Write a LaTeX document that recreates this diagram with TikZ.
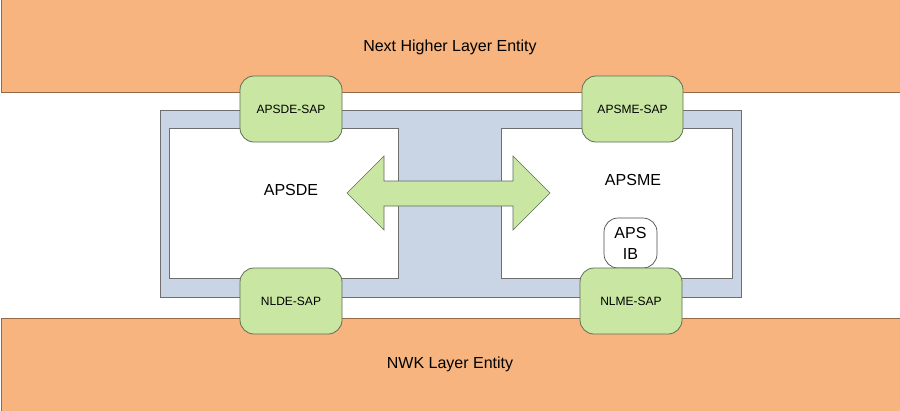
\documentclass[tikz,border=0pt]{standalone}
\usepackage{fontspec}
\setmainfont{Liberation Sans}
\usetikzlibrary{shapes.arrows}
\definecolor{orangefill}{RGB}{247,180,126}
\definecolor{orangedraw}{RGB}{150,105,70}
\definecolor{greenfill}{RGB}{201,230,162}
\definecolor{greendraw}{RGB}{95,110,85}
\definecolor{bluefill}{RGB}{201,212,228}
\definecolor{graydraw}{RGB}{110,110,110}
\tikzset{
  band/.style={draw=orangedraw, fill=orangefill, line width=1pt},
  sap/.style={draw=greendraw, fill=greenfill, rounded corners=14pt, line width=0.8pt},
  inner/.style={draw=graydraw, fill=white, line width=0.8pt},
  lbl/.style={font=\fontsize{16}{19}\selectfont, align=center},
  saplbl/.style={font=\fontsize{12}{14}\selectfont},
}
\begin{document}
\begin{tikzpicture}[x=1pt,y=-1pt]
\useasboundingbox (0,0) rectangle (900,410);
\fill[white] (0,0) rectangle (900,410);
% bands
\draw[band] (1,-5) rectangle (905,92);
\draw[band] (1,318) rectangle (905,415);
\node[lbl] (nhle) at (450,47) {Next Higher Layer Entity};
\node[lbl] (nwk) at (450,364) {NWK Layer Entity};
% outer blue
\draw[draw=graydraw, fill=bluefill, line width=0.8pt] (160,110) rectangle (741,297);
\draw[inner] (169,128) rectangle (398,278);
\draw[inner] (501,128) rectangle (732,278);
\node[lbl] (apsde) at (291,190) {APSDE};
\node[lbl] (apsme) at (633,180) {APSME};
% double arrow
\draw[draw=greendraw, fill=greenfill, line width=0.6pt]
  (347,193) -- (384,156) -- (384,181) -- (513,181) -- (513,156) -- (550,193)
  -- (513,230) -- (513,206) -- (384,206) -- (384,230) -- cycle;
% APS IB
\draw[draw=black!70, fill=white, rounded corners=14pt, line width=0.7pt] (604,218) rectangle (657,268);
\node[lbl, font=\fontsize{16}{21}\selectfont] (apsib) at (630.5,243) {APS\\IB};
% SAP boxes
\draw[sap] (240,76) rectangle (342,142);
\node[saplbl] (apsdesap) at (291,109) {APSDE-SAP};
\draw[sap] (582,76) rectangle (683,142);
\node[saplbl] (apsmesap) at (632.5,109) {APSME-SAP};
\draw[sap] (240,268) rectangle (342,334);
\node[saplbl] (nldesap) at (291,301) {NLDE-SAP};
\draw[sap] (580,268) rectangle (682,334);
\node[saplbl] (nlmesap) at (631,301) {NLME-SAP};
\end{tikzpicture}
\end{document}
